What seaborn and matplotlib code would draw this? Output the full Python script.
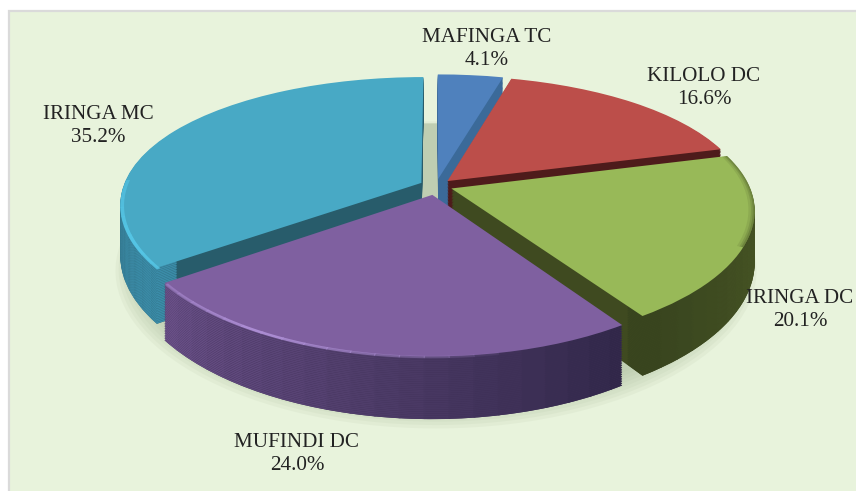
import numpy as np
import seaborn as sns
import matplotlib.pyplot as plt
import matplotlib.colors as mc
from matplotlib.patches import Rectangle, Wedge
from matplotlib.transforms import Transform

labels = ['MAFINGA TC', 'KILOLO DC', 'IRINGA DC', 'MUFINDI DC', 'IRINGA MC']
values = [4.1, 16.6, 20.1, 24.0, 35.2]
colors = ['#4F81BD', '#BC4E4A', '#98B958', '#7F60A0', '#48A9C5']
inner_walls = ['#3B6A99', '#4E1B1B', '#3F4A20', '#3E2F55', '#285C6B']
rim_start = ['#3B6A99', '#4E1B1B', '#38441E', '#6B5189', '#4A9FBC']
rim_end = ['#3B6A99', '#4E1B1B', '#55662C', '#2F2647', '#3B8CA8']
label_pos = [(487, 49), (704, 88), (800, 310), (297, 454), (98, 126)]

# pie plane -> picture pixels, with a bit of perspective
CX, CY = 436, 186
RX, RY = 298, 127
K = 0.19
KX = 0.16
DEPTH = 50


class PlaneToPixels(Transform):
    input_dims = 2
    output_dims = 2

    def __init__(self, z=0):
        super().__init__()
        self.z = z

    def transform_non_affine(self, xy):
        xy = np.asarray(xy, dtype=float)
        return np.column_stack([CX + RX * xy[:, 0] / (1 + KX * xy[:, 1]),
                                CY + (self.z - RY * xy[:, 1]) / (1 + K * xy[:, 1])])


sns.set_theme(style='white')
plt.rcParams['font.family'] = ['Liberation Serif', 'DejaVu Serif']

fig = plt.figure(figsize=(8.56, 4.91), dpi=100, facecolor='white')
# chart area, only its top and left border fall inside the picture
fig.add_artist(Rectangle((9 / 856, -5 / 491), 860 / 856, 485 / 491, transform=fig.transFigure,
                         facecolor='#E8F3DC', edgecolor='#DADADA', linewidth=1.6, zorder=-5))
ax = fig.add_axes([0, 0, 1, 1])


def draw_pie(vals, cols, z, expl, alpha=None, radius=1.0):
    wedges, _ = ax.pie(vals, colors=cols, startangle=90, counterclock=False, explode=expl,
                       radius=radius,
                       wedgeprops={'linewidth': 0, 'edgecolor': 'none', 'alpha': alpha})
    tr = PlaneToPixels(z) + ax.transData
    for w in wedges:
        w.set_transform(tr)
    return wedges


# soft shadow on the floor
for z, r in [(DEPTH + 9, 1.06), (DEPTH + 8, 1.05), (DEPTH + 7, 1.04), (DEPTH + 6, 1.03),
             (DEPTH + 5, 1.02), (DEPTH + 4, 1.01), (DEPTH + 3, 1.0), (DEPTH, 1.0)]:
    draw_pie([sum(values)], ['#A9BA9A'], z, [0], alpha=0.11, radius=r)

# side walls, stacked from the bottom up
explode = [0.055, 0.055, 0.055, 0.07, 0.055]
for z in np.linspace(DEPTH, 1, 34):
    wedges = draw_pie(values, inner_walls, z, explode)
    tr = PlaneToPixels(z) + ax.transData
    for i, w in enumerate(wedges):
        for a in np.arange(w.theta1, w.theta2, 4.0):
            if np.sin(np.radians(a + 2)) > 0.45:
                continue
            t = (a - w.theta1) / (w.theta2 - w.theta1)
            c = (1 - t) * np.array(mc.to_rgb(rim_start[i])) + t * np.array(mc.to_rgb(rim_end[i]))
            ax.add_patch(Wedge(w.center, 1.0, a, min(a + 4.3, w.theta2), width=0.07,
                               facecolor=c, linewidth=0, transform=tr))

# top faces
tops = draw_pie(values, colors, 0, explode)

# bright bevel along the front edges of the purple and blue slices
tr = PlaneToPixels(1.5) + ax.transData
for i, peak, tint in [(3, 0.25, '#AE8FD6'), (4, 0.9, '#55C6E6')]:
    w = tops[i]
    for a in np.arange(w.theta1, w.theta2, 4.0):
        if np.sin(np.radians(a + 2)) > 0.05:
            continue
        t = (a - w.theta1) / (w.theta2 - w.theta1)
        strength = max(0.0, 1 - abs(t - peak) / 0.5)
        ax.add_patch(Wedge(w.center, 1.0, a, min(a + 4.2, w.theta2), width=0.012,
                           facecolor=tint, alpha=strength, linewidth=0, transform=tr))

# dark soft edge on the upper right part of the green slice
tr = PlaneToPixels(0) + ax.transData
w = tops[2]
for width, alpha in [(0.02, 0.12), (0.012, 0.18), (0.006, 0.25)]:
    ax.add_patch(Wedge(w.center, 1.0, -25, w.theta2, width=width, facecolor='#3F4A20',
                       alpha=alpha, linewidth=0, transform=tr))

ax.set_aspect('auto')
ax.set_xlim(0, 856)
ax.set_ylim(491, 0)

for lab, v, (x, y) in zip(labels, values, label_pos):
    ax.text(x, y, f'{lab}\n{v:.1f}%', ha='center', va='center', fontsize=15.2,
            color='#222222', linespacing=1.28, zorder=10)

plt.savefig('out.png', dpi=100)
plt.close()
